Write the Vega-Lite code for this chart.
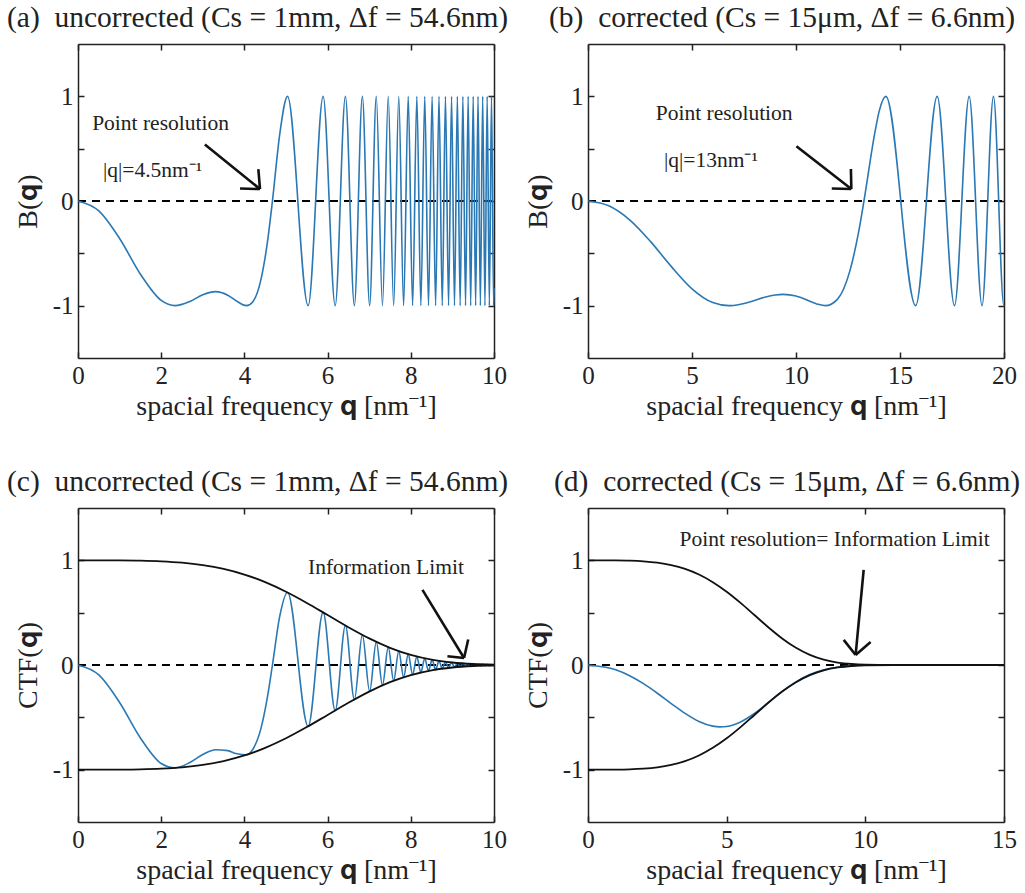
{
  "$schema": "https://vega.github.io/schema/vega-lite/v6.json",
  "background": "white",
  "padding": {"left": 7, "top": 2, "right": 5, "bottom": 5},
  "config": {
    "font": "Liberation Serif",
    "view": {"stroke": null},
    "axis": {
      "labelFont": "Liberation Serif", "titleFont": "Liberation Serif",
      "labelFontSize": 25, "titleFontSize": 28, "titleFontWeight": "normal",
      "labelColor": "#222", "titleColor": "#222", "domainColor": "#222", "tickColor": "#222",
      "domainWidth": 1.5, "tickWidth": 1.5, "tickSize": -6, "grid": false,
      "labelFlush": false, "labelOverlap": false, "labelBound": false, "labelAngle": 0
    },
    "axisBottom": {"labelPadding": 11, "titlePadding": 4},
    "axisLeft": {"labelPadding": 11, "titlePadding": 10},
    "title": {"font": "Liberation Serif", "fontSize": 29.5, "fontWeight": "normal", "anchor": "start", "frame": "group", "color": "#222", "offset": 10}
  },
  "datasets": {
    "zero10": [{"q": 0, "v": 0}, {"q": 10, "v": 0}],
    "zero20": [{"q": 0, "v": 0}, {"q": 20, "v": 0}],
    "zero15": [{"q": 0, "v": 0}, {"q": 15, "v": 0}],
    "Ba": [
      {"q": 0, "v": 0}, {"q": 0.5, "v": -0.0947}, {"q": 1, "v": -0.3579}, {"q": 1.5, "v": -0.6992}, {"q": 2, "v": -0.9501},
      {"q": 2.336, "v": -1}, {"q": 2.7, "v": -0.9578}, {"q": 3.0, "v": -0.896}, {"q": 3.305, "v": -0.866}, {"q": 3.6, "v": -0.9},
      {"q": 3.8, "v": -0.953}, {"q": 4.048, "v": -1}, {"q": 4.2, "v": -0.964}, {"q": 4.4, "v": -0.747}, {"q": 4.55, "v": -0.402},
      {"q": 4.674, "v": 0}, {"q": 4.85, "v": 0.64}, {"q": 5.037, "v": 1},
      {"q": 5.5326, "v": -1}, {"q": 5.8926, "v": 1}, {"q": 6.1826, "v": -1}, {"q": 6.4284, "v": 1}, {"q": 6.6435, "v": -1},
      {"q": 6.8358, "v": 1}, {"q": 7.0104, "v": -1}, {"q": 7.1706, "v": 1}, {"q": 7.3191, "v": -1}, {"q": 7.4577, "v": 1},
      {"q": 7.5879, "v": -1}, {"q": 7.7108, "v": 1}, {"q": 7.8272, "v": -1}, {"q": 7.938, "v": 1}, {"q": 8.0437, "v": -1},
      {"q": 8.1449, "v": 1}, {"q": 8.242, "v": -1}, {"q": 8.3354, "v": 1}, {"q": 8.4254, "v": -1}, {"q": 8.5122, "v": 1},
      {"q": 8.5963, "v": -1}, {"q": 8.6776, "v": 1}, {"q": 8.7564, "v": -1}, {"q": 8.833, "v": 1}, {"q": 8.9074, "v": -1},
      {"q": 8.9798, "v": 1}, {"q": 9.0503, "v": -1}, {"q": 9.1191, "v": 1}, {"q": 9.1862, "v": -1}, {"q": 9.2517, "v": 1},
      {"q": 9.3157, "v": -1}, {"q": 9.3783, "v": 1}, {"q": 9.4395, "v": -1}, {"q": 9.4995, "v": 1}, {"q": 9.5583, "v": -1},
      {"q": 9.6158, "v": 1}, {"q": 9.6723, "v": -1}, {"q": 9.7278, "v": 1}, {"q": 9.7822, "v": -1}, {"q": 9.8357, "v": 1},
      {"q": 9.8882, "v": -1}, {"q": 9.9399, "v": 1}, {"q": 9.9907, "v": -1}, {"q": 10, "v": -0.833}
    ],
    "Cc": [
      {"q": 0, "v": 0}, {"q": 0.5, "v": -0.0947}, {"q": 1, "v": -0.3577}, {"q": 1.5, "v": -0.6972}, {"q": 2, "v": -0.9415},
      {"q": 2.336, "v": -0.9831}, {"q": 2.7, "v": -0.9292}, {"q": 3.0, "v": -0.8555}, {"q": 3.305, "v": -0.809}, {"q": 3.6, "v": -0.8177},
      {"q": 3.8, "v": -0.8461}, {"q": 4.048, "v": -0.8579}, {"q": 4.2, "v": -0.8072}, {"q": 4.4, "v": -0.6035}, {"q": 4.55, "v": -0.3151},
      {"q": 4.674, "v": 0}, {"q": 4.85, "v": 0.4665}, {"q": 5.037, "v": 0.6927},
      {"q": 5.5326, "v": -0.5859}, {"q": 5.8926, "v": 0.5026}, {"q": 6.1826, "v": -0.4344}, {"q": 6.4284, "v": 0.3774}, {"q": 6.6435, "v": -0.329},
      {"q": 6.8358, "v": 0.2876}, {"q": 7.0104, "v": -0.252}, {"q": 7.1706, "v": 0.2212}, {"q": 7.3191, "v": -0.1945}, {"q": 7.4577, "v": 0.1712},
      {"q": 7.5879, "v": -0.1508}, {"q": 7.7108, "v": 0.133}, {"q": 7.8272, "v": -0.1174}, {"q": 7.938, "v": 0.1038}, {"q": 8.0437, "v": -0.0917},
      {"q": 8.1449, "v": 0.0811}, {"q": 8.242, "v": -0.0718}, {"q": 8.3354, "v": 0.0636}, {"q": 8.4254, "v": -0.0564}, {"q": 8.5122, "v": 0.05},
      {"q": 8.5963, "v": -0.0443}, {"q": 8.6776, "v": 0.0393}, {"q": 8.7564, "v": -0.0349}, {"q": 8.833, "v": 0.031}, {"q": 8.9074, "v": -0.0275},
      {"q": 8.9798, "v": 0.0245}, {"q": 9.0503, "v": -0.0217}, {"q": 9.1191, "v": 0.0193}, {"q": 9.1862, "v": -0.0172}, {"q": 9.2517, "v": 0.0153},
      {"q": 9.3157, "v": -0.0136}, {"q": 9.3783, "v": 0.0121}, {"q": 9.4395, "v": -0.0108}, {"q": 9.4995, "v": 0.0096}, {"q": 9.5583, "v": -0.0085},
      {"q": 9.6158, "v": 0.0076}, {"q": 9.6723, "v": -0.0068}, {"q": 9.7278, "v": 0.006}, {"q": 9.7822, "v": -0.0054}, {"q": 9.8357, "v": 0.0048},
      {"q": 9.8882, "v": -0.0043}, {"q": 9.9399, "v": 0.0038}, {"q": 9.9907, "v": -0.0034}, {"q": 10, "v": -0.0028}
    ],
    "Bb": [
      {"q": 0, "v": 0}, {"q": 1, "v": -0.0461}, {"q": 2, "v": -0.1803}, {"q": 3, "v": -0.3857}, {"q": 4, "v": -0.6245},
      {"q": 5, "v": -0.8387}, {"q": 6, "v": -0.9706}, {"q": 6.767, "v": -1}, {"q": 7, "v": -0.9977}, {"q": 7.5, "v": -0.9794},
      {"q": 8, "v": -0.9499}, {"q": 8.5, "v": -0.9194}, {"q": 9, "v": -0.8976}, {"q": 9.381, "v": -0.8918}, {"q": 10, "v": -0.9078},
      {"q": 10.2, "v": -0.9204}, {"q": 11, "v": -0.9834}, {"q": 11.411, "v": -1}, {"q": 12, "v": -0.9371}, {"q": 12.6, "v": -0.6606},
      {"q": 13.0, "v": -0.3073}, {"q": 13.267, "v": 0}, {"q": 13.8, "v": 0.6619}, {"q": 14.0, "v": 0.8585}, {"q": 14.321, "v": 1},
      {"q": 15.752, "v": -1}, {"q": 16.788, "v": 1}, {"q": 17.62, "v": -1}, {"q": 18.326, "v": 1}, {"q": 18.943, "v": -1},
      {"q": 19.494, "v": 1}, {"q": 19.9945, "v": -1}, {"q": 20, "v": -0.999}
    ],
    "Cd": [
      {"q": 0, "v": 0}, {"q": 1, "v": -0.0461}, {"q": 1.5, "v": -0.1025}, {"q": 2, "v": -0.1786}, {"q": 2.5, "v": -0.2698},
      {"q": 3, "v": -0.3683}, {"q": 3.5, "v": -0.4628}, {"q": 4, "v": -0.5396}, {"q": 4.5, "v": -0.5843}, {"q": 4.75, "v": -0.5914},
      {"q": 5, "v": -0.5871}, {"q": 5.5, "v": -0.5441}, {"q": 6, "v": -0.4633}, {"q": 6.5, "v": -0.3599}, {"q": 7, "v": -0.2535},
      {"q": 7.5, "v": -0.161}, {"q": 8, "v": -0.0917}, {"q": 8.5, "v": -0.0468}, {"q": 9, "v": -0.0212}, {"q": 9.5, "v": -0.0086},
      {"q": 10, "v": -0.003}, {"q": 11, "v": -0.0002}, {"q": 12, "v": 0}, {"q": 13, "v": 0}, {"q": 14, "v": 0}, {"q": 15, "v": 0}
    ],
    "env": [
      {"q": 0, "v": 1, "side": "upper"}, {"q": 0.5, "v": 1, "side": "upper"}, {"q": 1, "v": 0.9994, "side": "upper"}, {"q": 1.5, "v": 0.9971, "side": "upper"},
      {"q": 2, "v": 0.9909, "side": "upper"}, {"q": 2.5, "v": 0.978, "side": "upper"}, {"q": 3, "v": 0.9548, "side": "upper"}, {"q": 3.5, "v": 0.9179, "side": "upper"},
      {"q": 4, "v": 0.8641, "side": "upper"}, {"q": 4.5, "v": 0.7913, "side": "upper"}, {"q": 5, "v": 0.7, "side": "upper"}, {"q": 5.5, "v": 0.5932, "side": "upper"},
      {"q": 6, "v": 0.4773, "side": "upper"}, {"q": 6.5, "v": 0.3611, "side": "upper"}, {"q": 7, "v": 0.2541, "side": "upper"}, {"q": 7.5, "v": 0.1644, "side": "upper"},
      {"q": 8, "v": 0.0966, "side": "upper"}, {"q": 8.5, "v": 0.0508, "side": "upper"}, {"q": 9, "v": 0.0237, "side": "upper"}, {"q": 9.5, "v": 0.0096, "side": "upper"},
      {"q": 10, "v": 0.0033, "side": "upper"}, {"q": 11, "v": 0.0002, "side": "upper"}, {"q": 12, "v": 0, "side": "upper"}, {"q": 13, "v": 0, "side": "upper"},
      {"q": 14, "v": 0, "side": "upper"}, {"q": 15, "v": 0, "side": "upper"},
      {"q": 0, "v": -1, "side": "lower"}, {"q": 0.5, "v": -1, "side": "lower"}, {"q": 1, "v": -0.9994, "side": "lower"}, {"q": 1.5, "v": -0.9971, "side": "lower"},
      {"q": 2, "v": -0.9909, "side": "lower"}, {"q": 2.5, "v": -0.978, "side": "lower"}, {"q": 3, "v": -0.9548, "side": "lower"}, {"q": 3.5, "v": -0.9179, "side": "lower"},
      {"q": 4, "v": -0.8641, "side": "lower"}, {"q": 4.5, "v": -0.7913, "side": "lower"}, {"q": 5, "v": -0.7, "side": "lower"}, {"q": 5.5, "v": -0.5932, "side": "lower"},
      {"q": 6, "v": -0.4773, "side": "lower"}, {"q": 6.5, "v": -0.3611, "side": "lower"}, {"q": 7, "v": -0.2541, "side": "lower"}, {"q": 7.5, "v": -0.1644, "side": "lower"},
      {"q": 8, "v": -0.0966, "side": "lower"}, {"q": 8.5, "v": -0.0508, "side": "lower"}, {"q": 9, "v": -0.0237, "side": "lower"}, {"q": 9.5, "v": -0.0096, "side": "lower"},
      {"q": 10, "v": -0.0033, "side": "lower"}, {"q": 11, "v": -0.0002, "side": "lower"}, {"q": 12, "v": 0, "side": "lower"}, {"q": 13, "v": 0, "side": "lower"},
      {"q": 14, "v": 0, "side": "lower"}, {"q": 15, "v": 0, "side": "lower"}
    ],
    "arrA": [{"q": 3.05, "v": 0.54, "q2": 4.375, "v2": 0.114}, {"q": 4.375, "v": 0.114, "q2": 4.335, "v2": 0.305}, {"q": 4.375, "v": 0.114, "q2": 3.895, "v2": 0.119}],
    "arrB": [{"q": 10.02, "v": 0.524, "q2": 12.66, "v2": 0.114}, {"q": 12.66, "v": 0.114, "q2": 12.64, "v2": 0.305}, {"q": 12.66, "v": 0.114, "q2": 11.72, "v2": 0.12}],
    "arrC": [{"q": 8.28, "v": 0.718, "q2": 9.28, "v2": 0.067}, {"q": 9.28, "v": 0.067, "q2": 9.38, "v2": 0.243}, {"q": 9.28, "v": 0.067, "q2": 8.88, "v2": 0.083}],
    "arrD": [{"q": 9.94, "v": 0.909, "q2": 9.65, "v2": 0.096}, {"q": 9.65, "v": 0.096, "q2": 9.22, "v2": 0.24}, {"q": 9.65, "v": 0.096, "q2": 10.19, "v2": 0.22}],
    "txtA": [{"q": 0.34, "v": 0.733, "label": "Point resolution"}, {"q": 0.6, "v": 0.286, "label": "|q|=4.5nm⁻¹"}],
    "txtB": [{"q": 3.26, "v": 0.829, "label": "Point resolution"}, {"q": 3.65, "v": 0.381, "label": "|q|=13nm⁻¹"}],
    "txtC": [{"q": 5.53, "v": 0.928, "label": "Information Limit"}],
    "txtD": [{"q": 3.3, "v": 1.196, "label": "Point resolution= Information Limit"}]
  },
  "columns": 2,
  "spacing": {"row": 150, "column": 94},
  "bounds": "flush",
  "concat": [
    {
      "width": 416, "height": 314,
      "title": {"text": "(a)\u00a0\u00a0uncorrected (Cs = 1mm, Δf = 54.6nm)", "dx": -71},
      "resolve": {"axis": {"x": "independent", "y": "independent"}},
      "layer": [
        {"data": {"name": "zero10"}, "mark": {"type": "line", "color": "black", "strokeDash": [8, 6], "strokeWidth": 1.8},
         "encoding": {
           "x": {"field": "q", "type": "quantitative", "scale": {"domain": [0, 10], "nice": false, "zero": false}, "axis": {"orient": "top", "labels": false, "title": null, "values": [0, 2, 4, 6, 8, 10]}},
           "y": {"field": "v", "type": "quantitative", "scale": {"domain": [-1.5, 1.5], "nice": false}, "axis": {"orient": "right", "labels": false, "title": null, "values": [-1, -0.5, 0, 0.5, 1]}}}},
        {"data": {"name": "Ba"}, "mark": {"type": "line", "color": "#2a78b4", "strokeWidth": 1.6, "interpolate": "monotone"},
         "encoding": {
           "x": {"field": "q", "type": "quantitative", "axis": {"title": "spacial frequency 𝐪 [nm⁻¹]", "values": [0, 2, 4, 6, 8, 10]}},
           "y": {"field": "v", "type": "quantitative", "axis": {"title": "B(𝐪)", "values": [-1, -0.5, 0, 0.5, 1], "labelExpr": "datum.value == 0 ? '0' : datum.value == 1 ? '1' : datum.value == -1 ? '-1' : ''"}}}},
        {"data": {"name": "arrA"}, "mark": {"type": "rule", "color": "#111", "strokeWidth": 2.6},
         "encoding": {"x": {"field": "q", "type": "quantitative", "axis": null}, "y": {"field": "v", "type": "quantitative", "axis": null}, "x2": {"field": "q2"}, "y2": {"field": "v2"}}},
        {"data": {"name": "txtA"}, "mark": {"type": "text", "align": "left", "baseline": "middle", "fontSize": 21.5, "font": "Liberation Serif", "color": "#222"},
         "encoding": {"x": {"field": "q", "type": "quantitative", "axis": null}, "y": {"field": "v", "type": "quantitative", "axis": null}, "text": {"field": "label"}}}
      ]
    },
    {
      "width": 416, "height": 314,
      "title": {"text": "(b)\u00a0\u00a0corrected (Cs = 15μm, Δf = 6.6nm)", "dx": -39},
      "resolve": {"axis": {"x": "independent", "y": "independent"}},
      "layer": [
        {"data": {"name": "zero20"}, "mark": {"type": "line", "color": "black", "strokeDash": [8, 6], "strokeWidth": 1.8},
         "encoding": {
           "x": {"field": "q", "type": "quantitative", "scale": {"domain": [0, 20], "nice": false, "zero": false}, "axis": {"orient": "top", "labels": false, "title": null, "values": [0, 5, 10, 15, 20]}},
           "y": {"field": "v", "type": "quantitative", "scale": {"domain": [-1.5, 1.5], "nice": false}, "axis": {"orient": "right", "labels": false, "title": null, "values": [-1, -0.5, 0, 0.5, 1]}}}},
        {"data": {"name": "Bb"}, "mark": {"type": "line", "color": "#2a78b4", "strokeWidth": 1.6, "interpolate": "monotone"},
         "encoding": {
           "x": {"field": "q", "type": "quantitative", "axis": {"title": "spacial frequency 𝐪 [nm⁻¹]", "values": [0, 5, 10, 15, 20]}},
           "y": {"field": "v", "type": "quantitative", "axis": {"title": "B(𝐪)", "values": [-1, -0.5, 0, 0.5, 1], "labelExpr": "datum.value == 0 ? '0' : datum.value == 1 ? '1' : datum.value == -1 ? '-1' : ''"}}}},
        {"data": {"name": "arrB"}, "mark": {"type": "rule", "color": "#111", "strokeWidth": 2.6},
         "encoding": {"x": {"field": "q", "type": "quantitative", "axis": null}, "y": {"field": "v", "type": "quantitative", "axis": null}, "x2": {"field": "q2"}, "y2": {"field": "v2"}}},
        {"data": {"name": "txtB"}, "mark": {"type": "text", "align": "left", "baseline": "middle", "fontSize": 21.5, "font": "Liberation Serif", "color": "#222"},
         "encoding": {"x": {"field": "q", "type": "quantitative", "axis": null}, "y": {"field": "v", "type": "quantitative", "axis": null}, "text": {"field": "label"}}}
      ]
    },
    {
      "width": 416, "height": 314,
      "title": {"text": "(c)\u00a0\u00a0uncorrected (Cs = 1mm, Δf = 54.6nm)", "dx": -71},
      "resolve": {"axis": {"x": "independent", "y": "independent"}},
      "layer": [
        {"data": {"name": "zero10"}, "mark": {"type": "line", "color": "black", "strokeDash": [8, 6], "strokeWidth": 1.8},
         "encoding": {
           "x": {"field": "q", "type": "quantitative", "scale": {"domain": [0, 10], "nice": false, "zero": false}, "axis": {"orient": "top", "labels": false, "title": null, "values": [0, 2, 4, 6, 8, 10]}},
           "y": {"field": "v", "type": "quantitative", "scale": {"domain": [-1.5, 1.5], "nice": false}, "axis": {"orient": "right", "labels": false, "title": null, "values": [-1, -0.5, 0, 0.5, 1]}}}},
        {"data": {"name": "Cc"}, "mark": {"type": "line", "color": "#2a78b4", "strokeWidth": 1.6, "interpolate": "monotone"},
         "encoding": {
           "x": {"field": "q", "type": "quantitative", "axis": {"title": "spacial frequency 𝐪 [nm⁻¹]", "values": [0, 2, 4, 6, 8, 10]}},
           "y": {"field": "v", "type": "quantitative", "axis": {"title": "CTF(𝐪)", "values": [-1, -0.5, 0, 0.5, 1], "labelExpr": "datum.value == 0 ? '0' : datum.value == 1 ? '1' : datum.value == -1 ? '-1' : ''"}}}},
        {"data": {"name": "env"}, "transform": [{"filter": "datum.q <= 10"}], "mark": {"type": "line", "color": "#111", "strokeWidth": 1.8, "interpolate": "monotone"},
         "encoding": {"x": {"field": "q", "type": "quantitative", "axis": null}, "y": {"field": "v", "type": "quantitative", "axis": null}, "detail": {"field": "side"}}},
        {"data": {"name": "arrC"}, "mark": {"type": "rule", "color": "#111", "strokeWidth": 2.6},
         "encoding": {"x": {"field": "q", "type": "quantitative", "axis": null}, "y": {"field": "v", "type": "quantitative", "axis": null}, "x2": {"field": "q2"}, "y2": {"field": "v2"}}},
        {"data": {"name": "txtC"}, "mark": {"type": "text", "align": "left", "baseline": "middle", "fontSize": 21.5, "font": "Liberation Serif", "color": "#222"},
         "encoding": {"x": {"field": "q", "type": "quantitative", "axis": null}, "y": {"field": "v", "type": "quantitative", "axis": null}, "text": {"field": "label"}}}
      ]
    },
    {
      "width": 416, "height": 314,
      "title": {"text": "(d)\u00a0\u00a0corrected (Cs = 15μm, Δf = 6.6nm)", "dx": -34},
      "resolve": {"axis": {"x": "independent", "y": "independent"}},
      "layer": [
        {"data": {"name": "zero15"}, "mark": {"type": "line", "color": "black", "strokeDash": [8, 6], "strokeWidth": 1.8},
         "encoding": {
           "x": {"field": "q", "type": "quantitative", "scale": {"domain": [0, 15], "nice": false, "zero": false}, "axis": {"orient": "top", "labels": false, "title": null, "values": [0, 5, 10, 15]}},
           "y": {"field": "v", "type": "quantitative", "scale": {"domain": [-1.5, 1.5], "nice": false}, "axis": {"orient": "right", "labels": false, "title": null, "values": [-1, -0.5, 0, 0.5, 1]}}}},
        {"data": {"name": "Cd"}, "mark": {"type": "line", "color": "#2a78b4", "strokeWidth": 1.6, "interpolate": "monotone"},
         "encoding": {
           "x": {"field": "q", "type": "quantitative", "axis": {"title": "spacial frequency 𝐪 [nm⁻¹]", "values": [0, 5, 10, 15]}},
           "y": {"field": "v", "type": "quantitative", "axis": {"title": "CTF(𝐪)", "values": [-1, -0.5, 0, 0.5, 1], "labelExpr": "datum.value == 0 ? '0' : datum.value == 1 ? '1' : datum.value == -1 ? '-1' : ''"}}}},
        {"data": {"name": "env"}, "mark": {"type": "line", "color": "#111", "strokeWidth": 1.8, "interpolate": "monotone"},
         "encoding": {"x": {"field": "q", "type": "quantitative", "axis": null}, "y": {"field": "v", "type": "quantitative", "axis": null}, "detail": {"field": "side"}}},
        {"data": {"name": "arrD"}, "mark": {"type": "rule", "color": "#111", "strokeWidth": 2.6},
         "encoding": {"x": {"field": "q", "type": "quantitative", "axis": null}, "y": {"field": "v", "type": "quantitative", "axis": null}, "x2": {"field": "q2"}, "y2": {"field": "v2"}}},
        {"data": {"name": "txtD"}, "mark": {"type": "text", "align": "left", "baseline": "middle", "fontSize": 21.5, "font": "Liberation Serif", "color": "#222"},
         "encoding": {"x": {"field": "q", "type": "quantitative", "axis": null}, "y": {"field": "v", "type": "quantitative", "axis": null}, "text": {"field": "label"}}}
      ]
    }
  ]
}
